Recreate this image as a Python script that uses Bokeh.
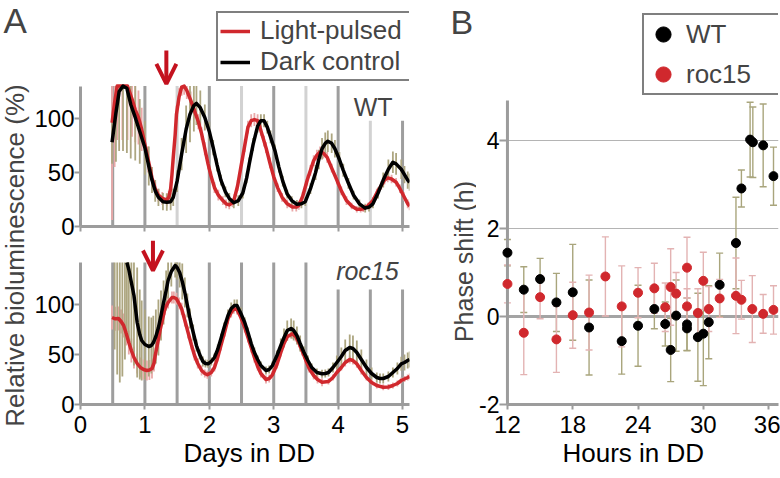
import numpy as np
from bokeh.plotting import figure
from bokeh.models import (Range1d, FixedTicker, Label, Legend, LegendItem, Arrow, OpenHead,
                          Whisker, TeeHead, ColumnDataSource, Title)
from bokeh.layouts import row, column
from bokeh.embed import file_html
from bokeh.resources import INLINE

FONT = "Liberation Sans"
RED = "#d0282d"
BLACK = "#000000"
OLIVE = "#ada680"
PINK = "#eaa9a9"
AXIS = "#9c9c9c"
BAR_DARK = "#9e9e9e"
BAR_LIGHT = "#d2d2d2"
ARROW_RED = "#c4121f"

# ---------------- Panel A data ----------------
day_marks = [0.5, 1.0, 1.5, 2.0, 2.5, 3.0, 3.5, 4.0, 4.5, 5.0]
wt_mark_top = [130, 130, 130, 130, 130, 130, 130, 130, 98, 98]
wt_mark_shade = ["dark", "dark", "light", "dark", "light", "dark", "light", "dark", "light", "dark"]
roc_mark_top = [142, 142, 142, 142, 142, 142, 142, 115, 115, 115]
wt_axis_top = 130
roc_axis_top = 142
pulse_day_wt = 1.333
pulse_day_roc = 1.125

wt_dark_d = [0.49, 0.55, 0.60, 0.66, 0.72, 0.78, 0.85, 0.92, 1.00, 1.06, 1.11, 1.16, 1.21, 1.28, 1.34,
             1.40, 1.44, 1.50, 1.57, 1.64, 1.70, 1.76, 1.80, 1.86, 1.93, 2.00, 2.06, 2.12, 2.18, 2.25,
             2.31, 2.38, 2.45, 2.52, 2.58, 2.62, 2.68, 2.75, 2.80, 2.85, 2.90, 2.95, 3.02, 3.08, 3.14,
             3.21, 3.28, 3.36, 3.43, 3.49, 3.57, 3.65, 3.70, 3.75, 3.80, 3.84, 3.90, 3.95, 4.02, 4.08,
             4.16, 4.24, 4.33, 4.42, 4.48, 4.54, 4.62, 4.70, 4.78, 4.85, 4.90, 4.98, 5.03, 5.08, 5.11]
wt_dark_v = [78, 105, 125, 130, 128, 113, 101, 88, 73, 56, 43, 33, 27, 23, 22.5,
             23, 27, 42, 67, 90, 104, 112, 114, 110, 101, 88, 73, 57, 43, 32,
             26, 22, 24, 31, 45, 58, 76, 93, 98, 98, 92, 83, 70, 55, 42,
             30, 24, 20.5, 21, 23, 35, 50, 62, 72, 77, 79, 77, 72, 62, 52,
             40, 29, 21, 17, 18, 21, 31, 43, 53, 59.5, 58, 53, 48, 43, 41]
wt_dark_e = [20, 45, 55, 60, 60, 50, 40, 30, 25, 18, 12, 10, 8, 8, 8,
             8, 8, 10, 15, 22, 26, 24, 20, 16, 12, 9, 7, 6, 5, 5,
             5, 5, 5, 5, 5, 6, 6, 6, 6, 6, 6, 6, 6, 5, 5,
             4, 4, 4, 4, 4, 5, 7, 9, 10, 10, 10, 9, 8, 7, 6,
             5, 4, 4, 4, 4, 4, 5, 7, 9, 10, 10, 9, 8, 8, 8]

wt_light_d = [0.49, 0.53, 0.57, 0.65, 0.73, 0.80, 0.85, 0.90, 0.95, 1.00, 1.05, 1.11, 1.16, 1.21, 1.27,
              1.34, 1.37, 1.40, 1.42, 1.44, 1.47, 1.49, 1.53, 1.57, 1.61, 1.65, 1.71, 1.77, 1.83, 1.88,
              1.93, 1.98, 2.03, 2.08, 2.14, 2.21, 2.26, 2.31, 2.36, 2.39, 2.44, 2.49, 2.55, 2.60, 2.65,
              2.70, 2.75, 2.80, 2.85, 2.88, 2.94, 3.00, 3.06, 3.13, 3.21, 3.29, 3.35, 3.39, 3.45, 3.52,
              3.57, 3.62, 3.67, 3.72, 3.77, 3.83, 3.90, 3.98, 4.05, 4.13, 4.21, 4.29, 4.35, 4.39, 4.46,
              4.54, 4.60, 4.67, 4.72, 4.77, 4.83, 4.90, 4.96, 5.02, 5.08, 5.11]
wt_light_v = [96, 115, 130, 130, 130, 118, 108, 101, 90, 76, 62, 45, 35, 29, 26,
              24.7, 27, 35, 48, 64, 85, 104, 120, 129, 130, 126, 117, 107, 97, 86,
              72, 58, 46, 36, 29, 24, 21, 20, 22, 26, 38, 55, 75, 92, 98,
              99, 98, 89, 79, 73, 59, 46, 36, 27, 21, 18, 18, 19.5, 28, 43,
              52, 61, 66, 69, 68, 64, 54, 43, 33, 24, 19, 16, 16, 16.5, 19,
              24, 31, 38, 43, 45, 44, 41, 35, 28, 21, 19]
wt_light_e = [90, 60, 50, 50, 50, 35, 30, 25, 20, 15, 12, 8, 6, 6, 6,
              6, 6, 6, 6, 6, 8, 8, 8, 8, 8, 8, 8, 7, 7, 6,
              6, 5, 5, 5, 5, 4, 4, 4, 4, 4, 5, 5, 6, 6, 6,
              6, 6, 5, 5, 5, 5, 4, 4, 4, 4, 4, 4, 4, 4, 5,
              5, 5, 5, 5, 5, 5, 4, 4, 4, 4, 3, 3, 3, 3, 3,
              3, 4, 4, 4, 4, 4, 4, 4, 4, 4, 4]

roc_dark_d = [0.72, 0.75, 0.79, 0.83, 0.88, 0.92, 0.95, 1.00, 1.06, 1.10, 1.13, 1.17, 1.21, 1.25, 1.29,
              1.33, 1.36, 1.41, 1.47, 1.50, 1.54, 1.58, 1.62, 1.66, 1.70, 1.75, 1.80, 1.85, 1.90, 1.94,
              1.98, 2.03, 2.08, 2.13, 2.18, 2.23, 2.29, 2.34, 2.39, 2.43, 2.49, 2.55, 2.60, 2.65, 2.70,
              2.75, 2.80, 2.88, 2.93, 2.98, 3.05, 3.11, 3.16, 3.21, 3.27, 3.31, 3.36, 3.41, 3.47, 3.53,
              3.59, 3.67, 3.75, 3.80, 3.85, 3.92, 3.98, 4.05, 4.11, 4.18, 4.23, 4.29, 4.36, 4.44, 4.52,
              4.60, 4.65, 4.70, 4.78, 4.85, 4.92, 4.98, 5.03, 5.08, 5.11]
roc_dark_v = [142, 135, 122, 109, 82, 70, 64, 60, 58, 59, 61.7, 68, 77, 89, 102,
              114, 124, 133, 139, 137, 132, 123, 112, 99, 86, 72, 59, 50, 43, 41,
              40.7, 43, 47, 55, 65.7, 77, 89, 96, 99, 99, 91, 82, 72, 61, 52,
              45, 39, 34, 35, 39, 49, 59, 67, 74, 76, 74, 69, 61, 52, 44,
              37, 32, 30.7, 31, 32, 37, 42, 48, 54, 57, 56, 52, 45, 37, 31,
              27, 26, 26, 28, 32, 36, 40.7, 42, 44, 45]
roc_dark_e = [70, 75, 70, 70, 55, 45, 40, 35, 30, 28, 27, 27, 28, 25, 22,
              20, 18, 15, 12, 12, 15, 18, 15, 12, 10, 8, 6, 5, 5, 4,
              4, 4, 4, 5, 5, 5, 6, 6, 6, 6, 6, 5, 5, 5, 5,
              4, 4, 4, 4, 4, 5, 7, 9, 10, 10, 10, 9, 8, 6, 5,
              4, 4, 4, 4, 4, 5, 7, 9, 11, 13, 13, 12, 10, 8, 6,
              5, 5, 5, 5, 5, 6, 7, 8, 8, 8]
# error bars of the dark control before its curve enters the plot (upper ends off-scale)
roc_dark_early_d = [0.53, 0.57, 0.61, 0.65, 0.69]
roc_dark_early_lo = [55, 30, 22, 28, 45]

roc_light_d = [0.49, 0.54, 0.59, 0.63, 0.67, 0.71, 0.75, 0.79, 0.83, 0.88, 0.93, 0.98, 1.03, 1.07, 1.11,
               1.14, 1.16, 1.20, 1.24, 1.28, 1.31, 1.36, 1.42, 1.45, 1.49, 1.53, 1.57, 1.62, 1.67, 1.72,
               1.77, 1.82, 1.88, 1.93, 1.97, 2.03, 2.08, 2.13, 2.18, 2.24, 2.29, 2.34, 2.38, 2.43, 2.49,
               2.55, 2.60, 2.65, 2.70, 2.75, 2.80, 2.88, 2.93, 2.98, 3.05, 3.11, 3.16, 3.21, 3.29, 3.34,
               3.39, 3.44, 3.49, 3.55, 3.62, 3.68, 3.75, 3.85, 3.92, 3.98, 4.05, 4.11, 4.18, 4.23, 4.29,
               4.36, 4.44, 4.52, 4.60, 4.70, 4.78, 4.85, 4.92, 4.98, 5.03, 5.08, 5.11]
roc_light_v = [87, 85.7, 86, 83, 79, 71, 62, 54, 47, 41, 37, 35, 34, 34.5, 36,
               41, 49, 62, 75.7, 87, 95.7, 102, 107, 107, 105.7, 101, 95.7, 84, 72, 60,
               49, 41, 34, 31, 29.7, 32, 37, 47, 59, 73, 85.7, 92, 95.7, 95, 87,
               77, 67, 57, 47, 38, 31, 25, 26, 29.7, 40, 52, 61, 67.7, 70.7, 68,
               62, 54, 45.7, 36, 29, 25, 22.3, 23, 27, 32, 37, 42, 45, 44, 40.7,
               34, 27, 22, 19, 17.3, 17.5, 19, 21, 24, 25.5, 27, 28]
roc_light_e = [12, 12, 12, 12, 12, 12, 12, 12, 11, 10, 10, 10, 10, 10, 10,
               8, 8, 7, 6, 6, 6, 6, 6, 6, 6, 6, 6, 6, 6, 5,
               5, 5, 5, 4, 4, 4, 4, 4, 5, 5, 5, 5, 5, 5, 5,
               5, 5, 5, 5, 4, 4, 4, 4, 4, 4, 4, 4, 4, 5, 5,
               5, 5, 5, 4, 4, 4, 4, 3, 3, 3, 3, 4, 4, 4, 4,
               4, 3, 3, 3, 3, 3, 3, 3, 3, 3, 3, 3]

day_ticks = [0, 1, 2, 3, 4, 5]
lum_ticks = [0, 50, 100]

# ---------------- Panel B data ----------------
wt_hours = [12, 13.5, 15, 16.5, 18, 19.5, 22.5, 24, 25.5, 26.5, 27, 27.5,
            28.5, 28.5, 29.5, 30, 30.5, 31.5, 33, 33.5, 34.3, 34.55, 35.5, 36.45]
wt_shift = [1.45, 0.61, 0.85, 0.32, 0.55, -0.25, -0.56, -0.21, 0.17, -0.17, -0.76, 0.02,
            -0.18, -0.27, -0.47, -0.39, -0.13, 0.72, 1.67, 2.91, 4.02, 3.96, 3.89, 3.19]
wt_err = [0.3, 0.52, 0.47, 0.66, 1.09, 1.08, 0.75, 0.92, 0.45, 0.5, 0.72, 0.81,
          0.6, 0.5, 1.0, 1.18, 0.83, 0.72, 1.04, 0.42, 0.85, 0.8, 0.94, 0.66]
roc_hours = [12, 13.5, 15, 16.5, 18, 19.5, 21, 22.5, 24, 25.5, 26.5, 27, 27.5,
             28.5, 28.5, 29.5, 30, 30.5, 31.5, 33, 33.5, 34.5, 35.5, 36.45]
roc_shift = [0.74, -0.37, 0.44, -0.52, 0.03, 0.09, 0.91, 0.23, 0.54, 0.64, 0.21, 0.67, 0.52,
             1.11, 0.23, 0.08, 0.81, 0.17, 0.41, 0.47, 0.38, 0.17, 0.06, 0.15]
roc_err = [0.43, 0.95, 0.49, 0.75, 0.75, 0.85, 0.9, 0.92, 0.57, 0.57, 0.55, 0.87, 0.48,
           0.69, 0.4, 0.55, 0.65, 0.51, 0.43, 0.86, 0.44, 0.76, 0.44, 0.55]
hour_ticks = [12, 18, 24, 30, 36]
hour_axis = (12, 36.91)
shift_ticks = [-2, 0, 2, 4]
shift_axis = (-2, 4.91)
shift_grid = [2, 4]
shift_zero = 0

for a, b in [(wt_dark_d, wt_dark_v), (wt_dark_d, wt_dark_e), (wt_light_d, wt_light_v),
             (wt_light_d, wt_light_e), (roc_dark_d, roc_dark_v), (roc_dark_d, roc_dark_e),
             (roc_light_d, roc_light_v), (roc_light_d, roc_light_e)]:
    assert len(a) == len(b), (len(a), len(b))

TOTAL_H = 476


def make_fig(w, h, xr, yr, bl, br, bt, bb):
    p = figure(width=w, height=h, x_range=xr, y_range=yr, output_backend="svg",
               toolbar_location=None, title=None,
               min_border_left=bl, min_border_right=br, min_border_top=bt, min_border_bottom=bb)
    p.outline_line_color = None
    p.background_fill_color = "white"
    p.border_fill_color = "white"
    p.xgrid.visible = False
    p.ygrid.visible = False
    return p


def text_strip(w, h):
    s = figure(width=w, height=h, x_range=Range1d(0, w), y_range=Range1d(0, h),
               x_axis_type=None, y_axis_type=None, toolbar_location=None, title=None,
               output_backend="svg", min_border=0)
    s.outline_line_color = None
    s.background_fill_color = "white"
    s.border_fill_color = "white"
    return s


def style_axis(ax, ticks, show_labels=True, tick_out=6, tick_in=0, standoff=1, size="24px"):
    ax.ticker = FixedTicker(ticks=ticks, minor_ticks=[])
    ax.axis_line_color = AXIS
    ax.axis_line_width = 3
    ax.major_tick_line_color = AXIS
    ax.major_tick_line_width = 2
    ax.major_tick_out = tick_out
    ax.major_tick_in = tick_in
    ax.minor_tick_line_color = None
    ax.major_label_text_font = FONT
    if show_labels:
        ax.major_label_text_color = "black"
        ax.major_label_text_font_size = size
        ax.major_label_standoff = standoff
    else:
        ax.major_label_text_color = None
        ax.major_label_text_font_size = "1px"
        ax.major_label_standoff = 0


def err_bars(p, d, v, e, color, top):
    d = np.asarray(d, float)
    v = np.asarray(v, float)
    e = np.asarray(e, float)
    lo = np.maximum(v - e, 0)
    hi = np.minimum(v + e, top)
    p.segment(x0=d, y0=lo, x1=d, y1=hi, line_color=color, line_width=1.8)


def day_bars(p, tops, shades):
    cols = [BAR_DARK if s == "dark" else BAR_LIGHT for s in shades]
    p.segment(x0=day_marks, y0=[0] * len(day_marks), x1=day_marks, y1=tops,
              line_color=cols, line_width=3)


# ---------------- strip left of panel A (panel letter + shared y title) ----------------
LAB_W = 31
lab = text_strip(LAB_W, TOTAL_H)
lab.add_layout(Label(x=3, y=TOTAL_H - 20, text="A", text_font=FONT, text_font_size="35px",
                     text_align="left", text_baseline="middle"))
lab.add_layout(Label(x=14, y=TOTAL_H - 255, text="Relative bioluminescence (%)", text_font=FONT,
                     text_font_size="26px", angle=np.pi / 2, text_align="center",
                     text_baseline="middle"))

# ---------------- Panel A top (WT) ----------------
XR_A = (0, 5.108)
A_W = 380
atop = make_fig(A_W, 240, Range1d(*XR_A), Range1d(0, 226 / 1.08), 47, 2, 0, 14)
style_axis(atop.yaxis[0], lum_ticks, tick_out=6, standoff=0)
atop.yaxis[0].bounds = (0, wt_axis_top)
style_axis(atop.xaxis[0], day_ticks, show_labels=False, tick_out=5)

day_bars(atop, wt_mark_top, wt_mark_shade)
err_bars(atop, wt_light_d, wt_light_v, wt_light_e, PINK, wt_axis_top)
err_bars(atop, wt_dark_d, wt_dark_v, wt_dark_e, OLIVE, wt_axis_top)
r_light = atop.line(wt_light_d, np.minimum(wt_light_v, wt_axis_top), line_color=RED,
                    line_width=3.5, line_join="round")
r_dark = atop.line(wt_dark_d, np.minimum(wt_dark_v, wt_axis_top), line_color=BLACK,
                   line_width=3.5, line_join="round")

atop.add_layout(Arrow(end=OpenHead(size=20, line_color=ARROW_RED, line_width=4),
                      x_start=pulse_day_wt, y_start=163, x_end=pulse_day_wt, y_end=132,
                      line_color=ARROW_RED, line_width=4))
atop.add_layout(Label(x=4.846, y=111, text="WT", text_font=FONT, text_font_size="25px",
                      text_align="right", text_baseline="middle"))

leg_a = Legend(items=[LegendItem(label="Light-pulsed", renderers=[r_light]),
                      LegendItem(label="Dark control", renderers=[r_dark])],
               location=(136, 145), orientation="vertical",
               border_line_color="black", border_line_width=2.5,
               background_fill_color="white", background_fill_alpha=1.0,
               padding=2, spacing=0, margin=0,
               glyph_width=30, glyph_height=28, label_standoff=10, label_width=147,
               label_text_font=FONT, label_text_font_size="26px")
atop.add_layout(leg_a)

# ---------------- Panel A bottom (roc15) ----------------
abot = make_fig(A_W, TOTAL_H - 240, Range1d(*XR_A), Range1d(0, 164), 47, 2, 0, TOTAL_H - 404)
style_axis(abot.yaxis[0], lum_ticks, tick_out=6, standoff=0)
abot.yaxis[0].bounds = (0, roc_axis_top)
style_axis(abot.xaxis[0], day_ticks, tick_out=5, standoff=6)

day_bars(abot, roc_mark_top, ["dark"] * len(day_marks))
err_bars(abot, roc_light_d, roc_light_v, roc_light_e, PINK, roc_axis_top)
err_bars(abot, roc_dark_d, roc_dark_v, roc_dark_e, OLIVE, roc_axis_top)
abot.segment(x0=roc_dark_early_d, y0=roc_dark_early_lo, x1=roc_dark_early_d,
             y1=[roc_axis_top] * len(roc_dark_early_d), line_color=OLIVE, line_width=1.8)
abot.line(roc_light_d, roc_light_v, line_color=RED, line_width=3.5, line_join="round")
abot.line(roc_dark_d, np.minimum(roc_dark_v, roc_axis_top), line_color=BLACK,
          line_width=3.5, line_join="round")

abot.add_layout(Arrow(end=OpenHead(size=20, line_color=ARROW_RED, line_width=4),
                      x_start=pulse_day_roc, y_start=164, x_end=pulse_day_roc, y_end=134,
                      line_color=ARROW_RED, line_width=4))
abot.add_layout(Label(x=4.94, y=134, text="roc15", text_font=FONT, text_font_size="25px",
                      text_font_style="italic", text_align="right", text_baseline="middle"))
abot.add_layout(Title(text="Days in DD", align="left", offset=103, standoff=0,
                      text_font=FONT, text_font_size="26px", text_font_style="normal",
                      text_color="black"), "below")

# ---------------- strip left of panel B (panel letter + y title) ----------------
BS_W = 65
BS_X = LAB_W + A_W
bstrip = text_strip(BS_W, TOTAL_H)
bstrip.add_layout(Label(x=450 - BS_X, y=TOTAL_H - 21.5, text="B", text_font=FONT,
                        text_font_size="34px", text_align="left", text_baseline="middle"))
bstrip.add_layout(Label(x=463 - BS_X, y=TOTAL_H - 261, text="Phase shift (h)", text_font=FONT,
                        text_font_size="25px", angle=np.pi / 2, text_align="center",
                        text_baseline="middle"))

# ---------------- Panel B ----------------
B_X = LAB_W + A_W + BS_W
B_W = 780 - B_X
px_per_h = 10.96
px_per_shift = 44.0
FRAME_L = 499            # frame starts a little left of the y axis so the 12 h points are whole
AXIS_X = 505
B_LEFT = FRAME_L - B_X
b_x0 = hour_axis[0] - (AXIS_X - FRAME_L) / px_per_h
b_x1 = hour_axis[0] + 273 / px_per_h
b_y1 = shift_axis[0] + 404 / px_per_shift
bfig = make_fig(B_W, TOTAL_H, Range1d(b_x0, b_x1), Range1d(shift_axis[0], b_y1),
                B_LEFT, 2, 0, TOTAL_H - 404)
style_axis(bfig.yaxis[0], shift_ticks, tick_out=2, tick_in=AXIS_X - FRAME_L, standoff=0, size="23px")
bfig.yaxis[0].axis_line_color = None
bfig.yaxis[0].major_label_overrides = {-2: "-2"}
style_axis(bfig.xaxis[0], hour_ticks, tick_out=5, standoff=6)
bfig.xaxis[0].bounds = hour_axis

# horizontal reference lines at 2 and 4 (thin) and the zero line (thick)
bfig.segment(x0=[hour_axis[0]] * len(shift_grid), y0=shift_grid,
             x1=[hour_axis[1]] * len(shift_grid), y1=shift_grid,
             line_color="#b4b4b4", line_width=1, level="underlay")
bfig.segment(x0=[hour_axis[0]], y0=[shift_zero], x1=[hour_axis[1]], y1=[shift_zero],
             line_color="#a4a4a4", line_width=3, level="underlay")

for hrs, sh, er, col in [(wt_hours, wt_shift, wt_err, "#a9a57c"),
                         (roc_hours, roc_shift, roc_err, "#e3b3b3")]:
    sh = np.asarray(sh)
    er = np.asarray(er)
    src = ColumnDataSource(dict(x=hrs, lo=sh - er, hi=sh + er))
    bfig.add_layout(Whisker(base="x", lower="lo", upper="hi", source=src, line_color=col,
                            line_width=1.4, level="underlay",
                            upper_head=TeeHead(size=7, line_color=col, line_width=1.4),
                            lower_head=TeeHead(size=7, line_color=col, line_width=1.4)))

# the y axis line itself, drawn at x = 12 h
bfig.segment(x0=[hour_axis[0]], y0=[shift_axis[0]], x1=[hour_axis[0]], y1=[shift_axis[1]],
             line_color=AXIS, line_width=3)

r_wt = bfig.scatter(wt_hours, wt_shift, size=9, color=BLACK)
r_roc = bfig.scatter(roc_hours, roc_shift, size=9, color=RED)

leg_b = Legend(items=[LegendItem(label="WT", renderers=[r_wt]),
                      LegendItem(label="roc15", renderers=[r_roc])],
               location=(640 - FRAME_L, 404 - 95), border_line_color="black", border_line_width=2.5,
               background_fill_color="white", background_fill_alpha=1.0,
               padding=0, spacing=2, margin=0, glyph_width=38, glyph_height=38,
               label_standoff=4, label_width=96,
               label_text_font=FONT, label_text_font_size="26px")
bfig.add_layout(leg_b)

bfig.add_layout(Title(text="Hours in DD", align="left", offset=560 - FRAME_L, standoff=0,
                      text_font=FONT, text_font_size="26px", text_font_style="normal",
                      text_color="black"), "below")

layout = row(column(lab), column(atop, abot), column(bstrip), column(bfig))
open("out.html", "w").write(file_html(layout, INLINE))
